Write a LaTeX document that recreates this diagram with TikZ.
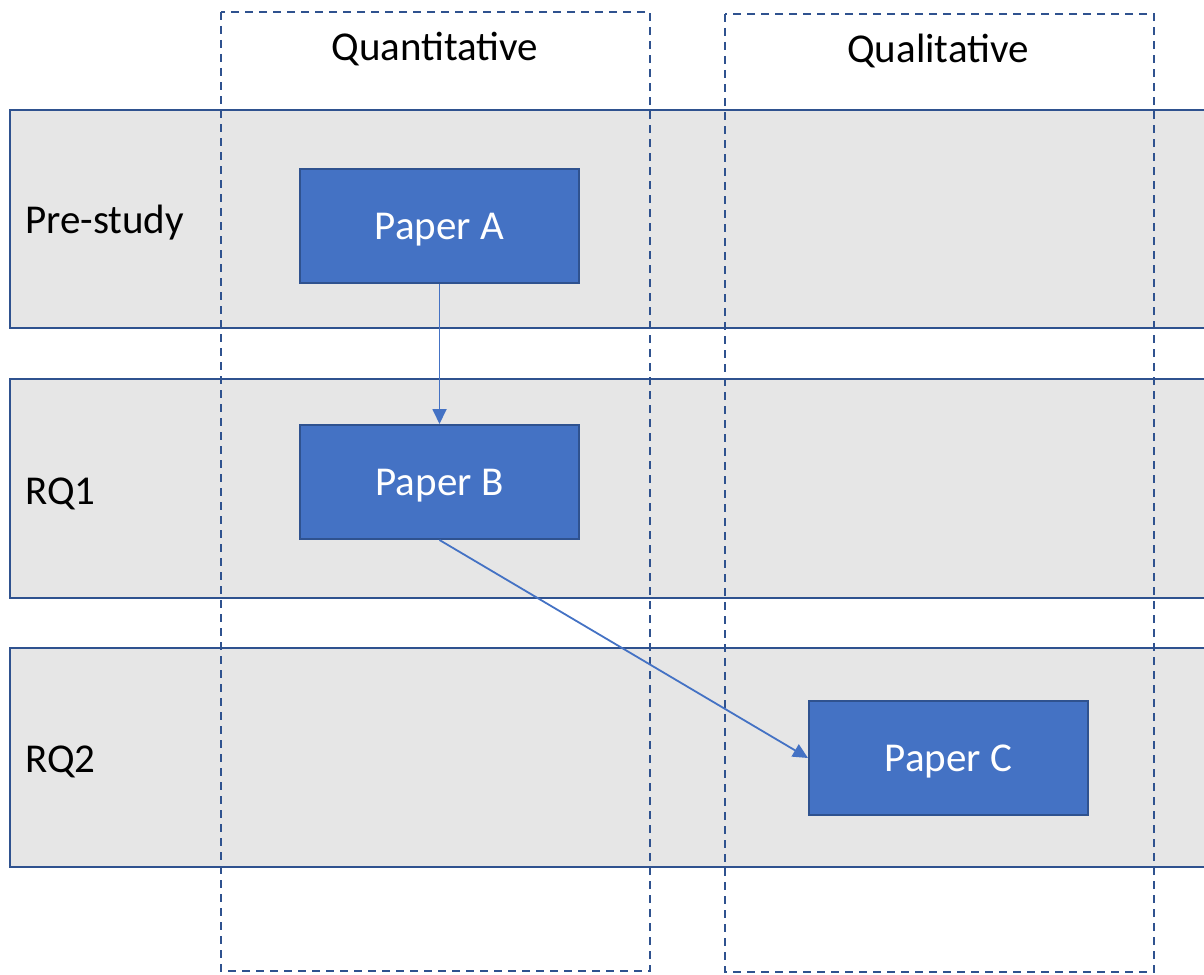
\documentclass[tikz,border=0pt]{standalone}
\usepackage{fontspec}
\setmainfont{Carlito}
\usetikzlibrary{arrows.meta}
\definecolor{bandfill}{HTML}{E6E6E6}
\definecolor{edgeblue}{HTML}{2F528F}
\definecolor{paperblue}{HTML}{4472C4}
\tikzset{
  band/.style={draw=edgeblue, line width=2.6pt, fill=bandfill},
  colbox/.style={draw=edgeblue, line width=2.8pt, dash pattern=on 8pt off 6pt},
  paper/.style={draw=edgeblue, line width=2pt, fill=paperblue, text=white,
    minimum width=279pt, minimum height=114pt, inner sep=0pt,
    text height=34pt, text depth=8pt,
    font=\fontsize{41}{48}\selectfont},
  lbl/.style={font=\fontsize{41}{48}\selectfont, inner sep=0pt},
  conn/.style={draw=paperblue, line width=1.8pt, -{Triangle[length=15pt,width=14pt]}}
}
\begin{document}
\begin{tikzpicture}[x=1pt,y=-1pt]
\useasboundingbox (0,0) rectangle (1204,974);
\clip (0,0) rectangle (1204,974);
% row bands
\draw[band] (10,110) rectangle (1215,328);
\draw[band] (10,379) rectangle (1215,598);
\draw[band] (10,648) rectangle (1215,867);
% columns
\draw[colbox] (221,12) rectangle (650,971);
\draw[colbox] (725,14) rectangle (1154,972);
% headers
\node[lbl] (quant) at (435,49) {Quantitative};
\node[lbl] (qual) at (938,51) {Qualitative};
% row labels
\node[lbl, anchor=west] (pre) at (25,223) {Pre-study};
\node[lbl, anchor=west] (rq1) at (25,494) {RQ1};
\node[lbl, anchor=west] (rq2) at (25,762) {RQ2};
% papers
\node[paper] (A) at (439.5,226) {Paper A};
\node[paper] (B) at (439.5,482) {Paper B};
\node[paper] (C) at (948.5,758) {Paper C};
% connectors
\draw[conn] (A.south) -- (B.north);
\draw[conn] (B.south) -- (C.west);
\end{tikzpicture}
\end{document}
